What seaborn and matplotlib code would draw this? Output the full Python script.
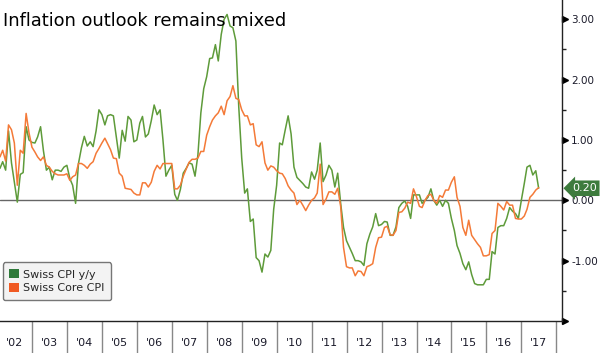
import numpy as np
import matplotlib
matplotlib.use("Agg")
import matplotlib.pyplot as plt
import matplotlib.transforms as mtransforms
from matplotlib.patches import Patch
import pandas as pd
import seaborn as sns

sns.set_style("white")
plt.rcParams['font.family'] = ['DejaVu Sans']
plt.rcParams['axes.unicode_minus'] = False

# monthly values, Jan 2002 .. Jun 2017
cpi_yy = [
    0.53, 0.64, 0.50, 1.15, 0.62, 0.30, -0.03, 0.43, 0.46, 1.22, 1.00, 0.96,   # 2002
    0.95, 1.05, 1.22, 0.82, 0.50, 0.55, 0.34, 0.50, 0.50, 0.48, 0.55, 0.58,    # 2003
    0.36, 0.25, -0.05, 0.61, 0.87, 1.06, 0.90, 0.97, 0.89, 1.15, 1.50, 1.42,   # 2004
    1.25, 1.40, 1.42, 1.40, 1.05, 0.70, 1.16, 0.98, 1.39, 1.33, 0.97, 1.00,    # 2005
    1.28, 1.39, 1.05, 1.10, 1.32, 1.58, 1.42, 1.50, 1.00, 0.40, 0.50, 0.58,    # 2006
    0.10, 0.00, 0.18, 0.45, 0.53, 0.62, 0.60, 0.40, 0.75, 1.45, 1.85, 2.05,    # 2007
    2.35, 2.36, 2.58, 2.31, 2.75, 3.00, 3.08, 2.89, 2.86, 2.64, 1.55, 0.70,    # 2008
    0.12, 0.19, -0.35, -0.31, -0.95, -1.00, -1.19, -0.89, -0.94, -0.83, -0.15, 0.25,  # 2009
    0.95, 0.92, 1.17, 1.40, 1.10, 0.55, 0.38, 0.33, 0.28, 0.22, 0.20, 0.47,    # 2010
    0.35, 0.50, 0.95, 0.31, 0.42, 0.58, 0.50, 0.22, 0.45, -0.05, -0.45, -0.67, # 2011
    -0.78, -0.88, -1.00, -1.00, -1.02, -1.08, -0.72, -0.56, -0.44, -0.22, -0.42, -0.40,  # 2012
    -0.35, -0.36, -0.58, -0.58, -0.44, -0.12, -0.05, -0.01, -0.10, -0.30, 0.09, 0.09,    # 2013
    0.09, -0.05, 0.00, 0.05, 0.19, 0.00, -0.08, 0.00, -0.10, 0.00, -0.05, -0.30,         # 2014
    -0.50, -0.75, -0.88, -1.05, -1.15, -1.02, -1.23, -1.38, -1.40, -1.40, -1.40, -1.31,  # 2015
    -1.31, -0.85, -0.89, -0.45, -0.42, -0.42, -0.30, -0.12, -0.18, -0.22, -0.30, 0.00,   # 2016
    0.28, 0.55, 0.58, 0.42, 0.49, 0.20,                                                  # 2017
]
core_cpi = [
    0.72, 0.83, 0.65, 1.25, 1.17, 0.95, 0.25, 0.83, 0.78, 1.44, 1.12, 0.88,    # 2002
    0.80, 0.72, 0.66, 0.72, 0.58, 0.55, 0.48, 0.44, 0.42, 0.42, 0.42, 0.44,    # 2003
    0.33, 0.39, 0.42, 0.61, 0.61, 0.58, 0.53, 0.60, 0.64, 0.78, 0.86, 0.95,    # 2004
    1.03, 0.94, 0.84, 0.70, 0.69, 0.45, 0.40, 0.20, 0.19, 0.18, 0.12, 0.09,    # 2005
    0.09, 0.29, 0.29, 0.22, 0.30, 0.48, 0.58, 0.52, 0.61, 0.61, 0.61, 0.61,    # 2006
    0.19, 0.19, 0.25, 0.40, 0.52, 0.63, 0.68, 0.68, 0.70, 0.81, 0.81, 1.08,    # 2007
    1.22, 1.33, 1.40, 1.45, 1.56, 1.42, 1.65, 1.72, 1.90, 1.69, 1.67, 1.50,    # 2008
    1.40, 1.40, 1.25, 1.27, 0.92, 0.89, 0.97, 0.62, 0.50, 0.57, 0.55, 0.49,    # 2009
    0.45, 0.44, 0.36, 0.24, 0.17, 0.12, -0.07, 0.00, -0.08, -0.17, -0.08, 0.00,  # 2010
    0.04, 0.12, 0.60, -0.07, 0.02, 0.14, 0.14, 0.10, 0.20, -0.10, -0.78, -1.10,  # 2011
    -1.12, -1.12, -1.25, -1.17, -1.18, -1.25, -1.10, -1.08, -1.05, -0.78, -0.62, -0.61,  # 2012
    -0.45, -0.43, -0.57, -0.58, -0.50, -0.20, -0.19, -0.13, -0.03, -0.05, 0.19, 0.06,    # 2013
    -0.10, -0.12, 0.00, 0.08, 0.10, 0.00, -0.05, 0.08, 0.05, 0.17, 0.17, 0.30,           # 2014
    0.39, 0.05, -0.10, -0.45, -0.58, -0.33, -0.58, -0.65, -0.72, -0.78, -0.92, -0.92,    # 2015
    -0.90, -0.55, -0.50, -0.05, -0.10, -0.16, -0.02, -0.08, -0.08, -0.30, -0.31, -0.31,  # 2016
    -0.26, -0.15, 0.05, 0.10, 0.17, 0.21,                                                # 2017
]
series_names = ["Swiss CPI y/y", "Swiss Core CPI"]
line_colors = ["#5e9b3a", "#f47a38"]
legend_colors = ["#2f7a3b", "#f05a23"]
years = list(range(2002, 2018))
year_labels = ["'{:02d}".format(y % 100) for y in years]
title = "Inflation outlook remains mixed"

dates = pd.date_range("2002-01-31", periods=len(cpi_yy), freq="ME")
df = pd.DataFrame({"date": dates, series_names[0]: cpi_yy, series_names[1]: core_cpi})
long_df = df.melt(id_vars="date", var_name="series", value_name="value")

fig = plt.figure(figsize=(6.0, 3.53), dpi=100)
ax = fig.add_axes([0.0, 32 / 353, 562 / 600, 321 / 353])

sns.lineplot(data=long_df, x="date", y="value", hue="series", hue_order=series_names,
             palette=line_colors, linewidth=1.1, legend=False, ax=ax)

ax.axhline(0, color="#666666", lw=1.0, zorder=1)
ax.set_ylim(-2.0, 3.32)
ax.set_xlim(pd.Timestamp("2002-01-31"), pd.Timestamp("2018-03-01"))
ax.set_xlabel("")
ax.set_ylabel("")

for side in ["top", "left"]:
    ax.spines[side].set_visible(False)
for side in ["right", "bottom"]:
    ax.spines[side].set_visible(True)
    ax.spines[side].set_color("#222222")
    ax.spines[side].set_linewidth(1.0)

# y axis on the right
ax.yaxis.tick_right()
ax.set_yticks([-2, -1, 0, 1, 2, 3])
ax.set_yticklabels(["", "-1.00", "0.00", "1.00", "2.00", "3.00"])
ax.set_yticks([-1.5, -0.5, 0.5, 1.5, 2.5], minor=True)
ax.tick_params(axis="y", which="major", length=0, pad=6.5, labelsize=7.5, labelcolor="#1a1a2a")
ax.tick_params(axis="y", which="minor", right=True, direction="out", length=3, width=1, color="#222222")
tri = mtransforms.offset_copy(ax.get_yaxis_transform(), fig=fig, x=2.5, y=0, units="dots")
ax.plot([1.0] * 6, [-2, -1, 0, 1, 2, 3], ls="", marker=">", ms=4.5, color="black",
        transform=tri, clip_on=False)

# x axis: year separators + centred labels
ax.set_xticks([pd.Timestamp(f"{y}-01-01") for y in years[1:] + [2018]])
ax.set_xticklabels([])
ax.set_xticks([pd.Timestamp(f"{y}-07-01") for y in years], minor=True)
ax.set_xticklabels(year_labels, minor=True)
ax.tick_params(axis="x", which="major", bottom=True, direction="out", length=23, width=1, color="#888888")
ax.tick_params(axis="x", which="minor", bottom=True, length=0, pad=12, labelsize=8, labelcolor="#1a1a2a")

ax.text(0.005, 1 - 26 / 321, title, transform=ax.transAxes, fontsize=12.9,
        va="baseline", ha="left", color="black")

handles = [Patch(facecolor=c, edgecolor="none") for c in legend_colors]
leg = ax.legend(handles, series_names, loc="lower left", bbox_to_anchor=(0.005, 21 / 321),
                borderaxespad=0, fontsize=8, frameon=True, fancybox=True,
                handlelength=0.9, handleheight=0.9, handletextpad=0.3, labelspacing=0.3,
                borderpad=0.6)
leg.get_frame().set_facecolor("#f0f0f0")
leg.get_frame().set_edgecolor("#555555")
leg.get_frame().set_linewidth(1.0)

last = cpi_yy[-1]
ax.annotate("{:.2f}".format(last), xy=(1.0, last), xycoords=ax.get_yaxis_transform(),
            xytext=(10, 0), textcoords="offset pixels", ha="left", va="center",
            fontsize=8, color="white", annotation_clip=False,
            bbox=dict(boxstyle="larrow,pad=0.25", fc="#3d7b3d", ec="none"))

fig.savefig("out.png", dpi=100)
